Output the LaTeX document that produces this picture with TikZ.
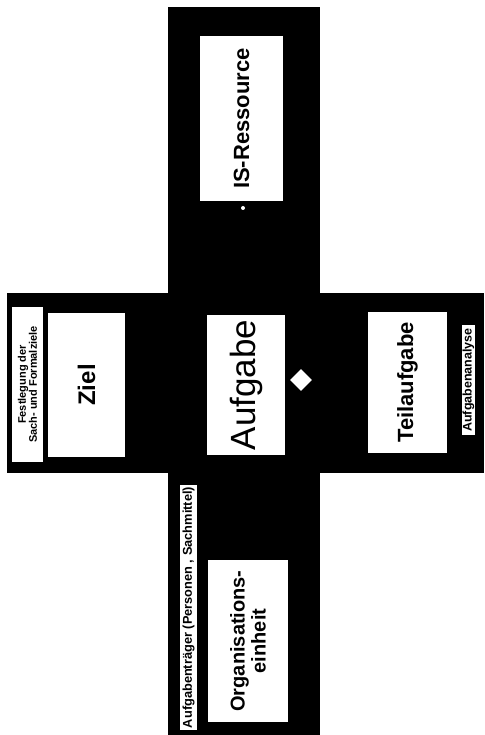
\documentclass[tikz,border=0pt]{standalone}
\usepackage{fontspec}
\setmainfont{Liberation Sans}
\usetikzlibrary{shapes.geometric}

\begin{document}
\begin{tikzpicture}[x=1pt, y=1pt,
    box/.style={fill=white, rotate=90, inner sep=0pt, align=center, font=\bfseries},
    note/.style={box, font=\bfseries\fontsize{11}{11}\selectfont}]
    \useasboundingbox (0,0) rectangle (484,735);

    % Black cross
    \fill[black] (168,0) rectangle (320,728);
    \fill[black] (7,262) rectangle (484,442);

    % Centre - task
    \node[box, minimum width=140, minimum height=78, font=\fontsize{35}{37}\selectfont] (aufgabe) at (246,350) {Aufgabe};
    \node[diamond, fill=white, inner sep=0pt, minimum size=22] (link) at (301,355) {};

    % Top - resource
    \node[box, minimum width=165, minimum height=83, font=\bfseries\fontsize{22}{24}\selectfont] (ressource) at (241.5,616.5) {IS-Ressource};
    \node[circle, fill=white, inner sep=0pt, minimum size=4] (anchor) at (243,527) {};

    % Left - goal
    \node[note, minimum width=155, minimum height=31] (festlegung) at (27.5,350.5) {Festlegung der\\Sach- und Formalziele};
    \node[box, minimum width=144, minimum height=77, font=\bfseries\fontsize{24}{26}\selectfont] (ziel) at (86.5,350) {Ziel};

    % Right - subtask
    \node[box, minimum width=141, minimum height=79, font=\bfseries\fontsize{22}{24}\selectfont] (teil) at (407.5,352.5) {Teilaufgabe};
    \node[note, minimum width=110, minimum height=13, font=\bfseries\fontsize{12.5}{12.5}\selectfont] (analyse) at (468.5,355) {Aufgabenanalyse};

    % Bottom - organisation
    \node[note, minimum width=245, minimum height=17, font=\bfseries\fontsize{12.8}{12.8}\selectfont] (traeger) at (188.5,127.5) {Aufgabenträger (Personen , Sachmittel)};
    \node[box, minimum width=162, minimum height=80, font=\bfseries\fontsize{20}{21}\selectfont] (org) at (248,94) {Organisations-\\einheit};

\end{tikzpicture}
\end{document}
